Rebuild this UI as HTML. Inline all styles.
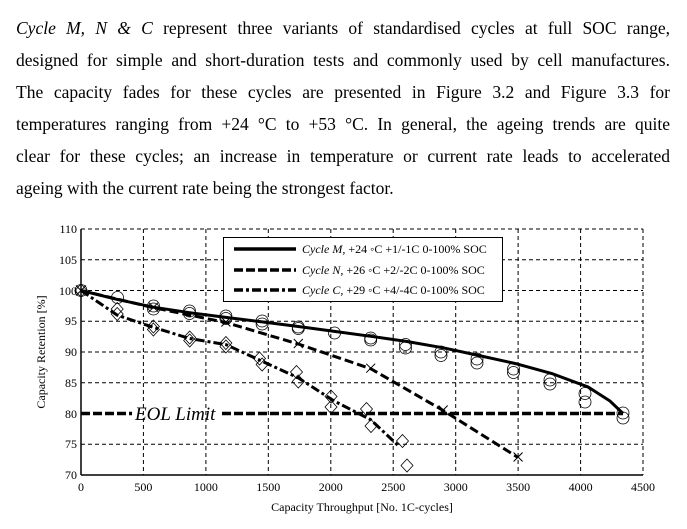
<!DOCTYPE html>
<html><head><meta charset="utf-8"><style>
body{margin:0;background:#fff;width:687px;height:529px;overflow:hidden}
.p{position:absolute;left:16px;width:654px;font-family:"Liberation Serif",serif;font-size:17.5px;line-height:32px;color:#000}
.l{text-align:justify;text-align-last:justify;white-space:nowrap;height:32px}
.l.last{text-align-last:left}
</style></head><body>
<div class="p" style="top:12px">
<div class="l"><i>Cycle M, N &amp; C</i> represent three variants of standardised cycles at full SOC range,</div>
<div class="l">designed for simple and short-duration tests and commonly used by cell manufactures.</div>
<div class="l">The capacity fades for these cycles are presented in Figure 3.2 and Figure 3.3 for</div>
<div class="l">temperatures ranging from +24 °C to +53 °C. In general, the ageing trends are quite</div>
<div class="l">clear for these cycles; an increase in temperature or current rate leads to accelerated</div>
<div class="l last">ageing with the current rate being the strongest factor.</div>
</div>
<svg width="687" height="529" style="position:absolute;left:0;top:0" font-family="Liberation Serif, serif">
<g stroke="#000" stroke-width="1" stroke-dasharray="4,3" fill="none">
<line x1="143.4" y1="229" x2="143.4" y2="475"/><line x1="205.9" y1="229" x2="205.9" y2="475"/>
<line x1="268.3" y1="229" x2="268.3" y2="475"/><line x1="330.8" y1="229" x2="330.8" y2="475"/>
<line x1="393.2" y1="229" x2="393.2" y2="475"/><line x1="455.7" y1="229" x2="455.7" y2="475"/>
<line x1="518.1" y1="229" x2="518.1" y2="475"/><line x1="580.6" y1="229" x2="580.6" y2="475"/>
<line x1="81" y1="229" x2="643" y2="229"/><line x1="81" y1="259.75" x2="643" y2="259.75"/>
<line x1="81" y1="290.5" x2="643" y2="290.5"/><line x1="81" y1="321.25" x2="643" y2="321.25"/>
<line x1="81" y1="352" x2="643" y2="352"/><line x1="81" y1="382.75" x2="643" y2="382.75"/>
<line x1="81" y1="444.25" x2="643" y2="444.25"/>
<line x1="643" y1="229" x2="643" y2="475"/>
</g>
<line x1="81" y1="229" x2="81" y2="475" stroke="#000" stroke-width="1.5"/>
<line x1="81" y1="475" x2="643" y2="475" stroke="#000" stroke-width="1.5"/>
<g font-size="12" text-anchor="end">
<text x="77" y="233">110</text><text x="77" y="264">105</text><text x="77" y="295">100</text>
<text x="77" y="325">95</text><text x="77" y="356">90</text><text x="77" y="387">85</text>
<text x="77" y="418">80</text><text x="77" y="448">75</text><text x="77" y="479">70</text>
</g>
<g font-size="12" text-anchor="middle">
<text x="81" y="491">0</text><text x="143.4" y="491">500</text><text x="205.9" y="491">1000</text>
<text x="268.3" y="491">1500</text><text x="330.8" y="491">2000</text><text x="393.2" y="491">2500</text>
<text x="455.7" y="491">3000</text><text x="518.1" y="491">3500</text><text x="580.6" y="491">4000</text>
<text x="643" y="491">4500</text>
<text x="362" y="511">Capacity Throughput [No. 1C-cycles]</text>
<text transform="translate(45,352) rotate(-90)">Capacity Retention [%]</text>
</g>
<!-- EOL -->
<line x1="81" y1="413.5" x2="132" y2="413.5" stroke="#000" stroke-width="3.5" stroke-dasharray="9,3"/>
<line x1="222" y1="413.5" x2="623" y2="413.5" stroke="#000" stroke-width="3.5" stroke-dasharray="9,3"/>
<text x="135" y="420" font-size="19" font-style="italic">EOL Limit</text>
<!-- M line -->
<polyline fill="none" stroke="#000" stroke-width="3" points="81,290.5 117.2,299.4 153.4,307.2 189.7,312.7 225.9,317.4 262.1,321.9 298.3,326.5 334.5,331.4 370.7,336.3 407,341.5 443.2,347.8 479.4,355.6 515.6,363.6 551.8,373.5 588.1,387 610,401 623,413.5"/>
<!-- N line -->
<polyline fill="none" stroke="#000" stroke-width="3" stroke-dasharray="9,4" points="81,290.5 153.4,307.7 225.9,322.5 298.3,344 370.7,368.7 443.2,410.5 518.1,457.5"/>
<!-- C line -->
<polyline fill="none" stroke="#000" stroke-width="3" stroke-dasharray="9,3,3,3" points="81,290.5 117.2,315.1 153.4,327.4 189.7,338.5 225.9,344.6 262.1,361.2 298.3,377.9 334.5,401.2 370.7,419.7 399.5,446.8"/>
<!-- circles -->
<g fill="none" stroke="#000" stroke-width="0.8">
<circle cx="81" cy="290.5" r="6"/>
<circle cx="117.5" cy="297.5" r="6"/><circle cx="153.5" cy="306" r="6"/><circle cx="153.5" cy="309" r="6"/>
<circle cx="189.5" cy="311" r="6"/><circle cx="189.5" cy="313.5" r="6"/><circle cx="225.9" cy="316" r="6"/><circle cx="225.9" cy="318.5" r="6"/>
<circle cx="262.1" cy="321" r="6"/><circle cx="262.1" cy="324" r="6"/><circle cx="298.3" cy="327" r="6"/><circle cx="298.3" cy="328.5" r="6"/>
<circle cx="334.5" cy="333" r="6"/><circle cx="370.7" cy="338" r="6"/><circle cx="370.7" cy="340" r="6"/>
<circle cx="405.5" cy="344.5" r="6"/><circle cx="405.5" cy="348" r="6"/><circle cx="441" cy="352" r="6"/><circle cx="441" cy="355.5" r="6"/>
<circle cx="477" cy="359" r="6"/><circle cx="477" cy="363" r="6"/><circle cx="513.5" cy="369" r="6"/><circle cx="513.5" cy="372.5" r="6"/>
<circle cx="550" cy="380" r="6"/><circle cx="550" cy="384" r="6"/><circle cx="585" cy="393.5" r="6"/><circle cx="585" cy="402" r="6"/>
<circle cx="623" cy="413" r="6"/><circle cx="623" cy="418" r="6"/>
</g>
<!-- x markers -->
<g stroke="#000" stroke-width="1" fill="none">
<path d="M76,285.5l10,10m0,-10l-10,10M149,302.7l9,9m0,-9l-9,9M221.4,317.5l9,9m0,-9l-9,9M293.8,339l9,9m0,-9l-9,9M366.2,363.7l9,9m0,-9l-9,9M438.7,405.5l9,9m0,-9l-9,9M513.6,452.5l9,9m0,-9l-9,9"/>
</g>
<!-- diamonds -->
<g fill="none" stroke="#000" stroke-width="0.8">
<path d="M117.2,307.5l6,6.5l-6,6.5l-6,-6.5z"/><path d="M117.2,302.5l6,6.5l-6,6.5l-6,-6.5z"/>
<path d="M153.4,320l6,6.5l-6,6.5l-6,-6.5z"/><path d="M153.4,323l6,6.5l-6,6.5l-6,-6.5z"/>
<path d="M189.7,331l6,6.5l-6,6.5l-6,-6.5z"/><path d="M189.7,334l6,6.5l-6,6.5l-6,-6.5z"/>
<path d="M225.9,336.5l6,6.5l-6,6.5l-6,-6.5z"/><path d="M225.9,340l6,6.5l-6,6.5l-6,-6.5z"/>
<path d="M259.5,352l6,6.5l-6,6.5l-6,-6.5z"/><path d="M262.1,358l6,6.5l-6,6.5l-6,-6.5z"/>
<path d="M296.5,365.5l6,6.5l-6,6.5l-6,-6.5z"/><path d="M298.3,375l6,6.5l-6,6.5l-6,-6.5z"/>
<path d="M331,390l6,6.5l-6,6.5l-6,-6.5z"/><path d="M331,400.5l6,6.5l-6,6.5l-6,-6.5z"/>
<path d="M366.5,402.5l6,6.5l-6,6.5l-6,-6.5z"/><path d="M371,419.5l6,6.5l-6,6.5l-6,-6.5z"/>
<path d="M402.5,434.5l6,6.5l-6,6.5l-6,-6.5z"/><path d="M407,459l6,6.5l-6,6.5l-6,-6.5z"/>
<path d="M81,284l6,6.5l-6,6.5l-6,-6.5z"/>
</g>
<!-- legend -->
<rect x="223.5" y="237.5" width="279" height="64" fill="#fff" stroke="#000" stroke-width="1"/>
<line x1="234" y1="249" x2="296" y2="249" stroke="#000" stroke-width="3.5"/>
<line x1="234" y1="270" x2="296" y2="270" stroke="#000" stroke-width="3.5" stroke-dasharray="9,3"/>
<line x1="234" y1="290" x2="296" y2="290" stroke="#000" stroke-width="3.5" stroke-dasharray="9,3,3,3"/>
<g font-size="12">
<text x="302" y="253"><tspan font-style="italic">Cycle M,</tspan> +24 ◦C +1/-1C 0-100% SOC</text>
<text x="302" y="274"><tspan font-style="italic">Cycle N,</tspan> +26 ◦C +2/-2C 0-100% SOC</text>
<text x="302" y="294"><tspan font-style="italic">Cycle C,</tspan> +29 ◦C +4/-4C 0-100% SOC</text>
</g>
</svg>
</body></html>
